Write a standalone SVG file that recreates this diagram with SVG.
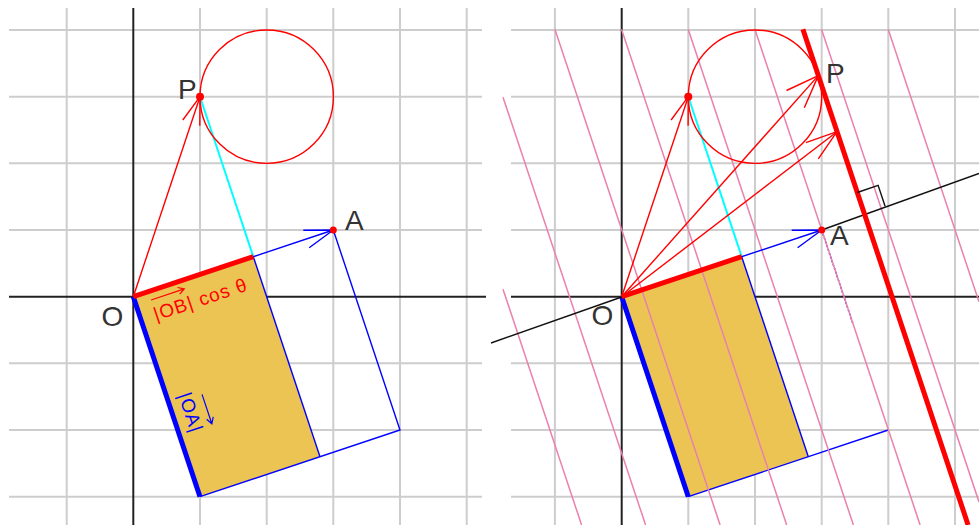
<svg xmlns="http://www.w3.org/2000/svg" width="979" height="525" viewBox="0 0 979 525">
<style>
.grid{stroke:#cdcdcd;stroke-width:2;fill:none}
.axis{stroke:#222;stroke-width:2;fill:none}
.rt{stroke:#ff0000;stroke-width:1.4;fill:none;stroke-linejoin:round}
.bt{stroke:#0000ff;stroke-width:1.4;fill:none}
.rk{stroke:#ff0000;stroke-width:5;fill:none}
.bk{stroke:#0000ff;stroke-width:5;fill:none}
.cy{stroke:#00ffff;stroke-width:2;fill:none}
.pk{stroke:#ea80ac;stroke-width:1.5;fill:none}
.bl{stroke:#111;stroke-width:1.4;fill:none}
.or{fill:#ecc453;stroke:none}
.dot{fill:#ff0000}
.lbl{font-family:"Liberation Sans",Arial,sans-serif;font-size:28px;fill:#333}
.sm{font-family:"Liberation Sans",Arial,sans-serif;font-size:19px;letter-spacing:1px}
</style>
<rect width="979" height="525" fill="#fff"/>

<g id="left-panel">
  <g id="left-grid" class="grid">
    <path d="M66.7 8V525M200 8V525M266.7 8V525M333.3 8V525M400 8V525M466.7 8V525"/>
    <path d="M9 30H482M9 96.7H482M9 163.3H482M9 230H482M9 363.3H482M9 430H482M9 496.7H482"/>
  </g>
  <g id="left-axes" class="axis">
    <path d="M133.3 8V525M9 296.7H486"/>
  </g>
  <polygon id="left-area" class="or" points="133.3,296.7 253.3,256.7 320,456.7 200,496.7"/>
  <g id="left-connectors">
    <polyline class="bt" points="333.3,230 400,430 200,496.7"/>
    <line class="bt" x1="253.3" y1="256.7" x2="320" y2="456.7"/>
    <line class="bk" x1="133.3" y1="296.7" x2="200" y2="496.7"/>
    <line class="cy" x1="200" y1="96.7" x2="253.3" y2="256.7"/>
    <line class="rt" x1="133.3" y1="296.7" x2="200" y2="96.7"/>
    <polyline class="rt" points="182.8,120 200,96.7 199.8,125.7"/>
    <circle class="rt" cx="266.7" cy="96.7" r="66.7"/>
    <line class="bt" x1="133.3" y1="296.7" x2="333.3" y2="230"/>
    <polyline class="bt" points="303.3,230.2 333.3,230 309.2,247.8"/>
    <line class="rk" x1="133.3" y1="296.7" x2="253.3" y2="256.7"/>
  </g>
  <g id="left-points">
    <circle class="dot" cx="200" cy="96.7" r="4"/>
    <circle class="dot" cx="333.3" cy="230" r="3.5"/>
    <text class="lbl" x="178" y="99">P</text>
    <text class="lbl" x="345" y="230">A</text>
    <text class="lbl" x="101.5" y="326">O</text>
  </g>
  <g id="label-OB" transform="translate(156,321) rotate(-18.43)" fill="#ff0000">
    <text class="sm" x="0" y="0">|OB| cos θ</text>
    <path d="M2 -21.5H37M31 -25L37 -21.5L31 -18" stroke="#ff0000" stroke-width="1.2" fill="none"/>
  </g>
  <g id="label-OA" transform="translate(178,395) rotate(71.57)" fill="#0000ff">
    <text class="sm" x="0" y="0">|OA|</text>
    <path d="M7 -23H38M32 -26.5L38 -23L32 -19.5" stroke="#0000ff" stroke-width="1.2" fill="none"/>
  </g>
</g>

<g id="right-panel">
  <g id="right-grid" class="grid">
    <path d="M554.9 8V525M688.3 8V525M755 8V525M821.7 8V525M888.3 8V525M955 8V525"/>
    <path d="M511 30H979M511 96.7H979M511 163.3H979M511 230H979M511 363.3H979M511 430H979M511 496.7H979"/>
  </g>
  <g id="right-axes" class="axis">
    <path d="M621.7 8V525M511 296.7H979"/>
  </g>
  <polygon id="right-area" class="or" points="621.7,296.7 741.7,256.7 808.3,456.7 688.3,496.7"/>
  <g id="right-connectors">
    <line class="bt" x1="741.7" y1="256.7" x2="808.3" y2="456.7"/>
    <line class="bt" x1="688.3" y1="496.7" x2="888.3" y2="430"/>
    <line class="bt" x1="821.7" y1="230" x2="852.7" y2="323" stroke-dasharray="2 2"/>
    <line class="bk" x1="621.7" y1="296.7" x2="688.3" y2="496.7"/>
    <g id="level-lines" class="pk">
      <line x1="503" y1="289.2" x2="581.6" y2="525"/>
      <line x1="503" y1="97.2" x2="645.6" y2="525"/>
      <line x1="554.9" y1="29.3" x2="720.1" y2="525"/>
      <line x1="621.5" y1="29.3" x2="786.7" y2="525"/>
      <line x1="688.2" y1="29.3" x2="853.4" y2="525"/>
      <line x1="754.9" y1="29.3" x2="920.1" y2="525"/>
      <line x1="821.5" y1="29.3" x2="979" y2="501.9"/>
      <line x1="888.2" y1="29.3" x2="979" y2="301.8"/>
    </g>
    <line class="cy" x1="688.3" y1="96.7" x2="741.7" y2="256.7"/>
    <line class="rt" x1="621.7" y1="296.7" x2="688.3" y2="96.7"/>
    <polyline class="rt" points="671.1,120 688.3,96.7 688.1,125.7"/>
    <line class="rt" x1="621.7" y1="296.7" x2="818.3" y2="75.6"/>
    <polyline class="rt" points="786.5,90.5 818.3,75.6 804.3,107.7"/>
    <line class="rt" x1="621.7" y1="296.7" x2="837" y2="131.7"/>
    <polyline class="rt" points="805.9,142.7 837,131.7 818.3,158.9"/>
    <circle class="rt" cx="755" cy="96.7" r="66.7"/>
    <line class="bl" x1="491" y1="343" x2="621.7" y2="297"/>
    <line class="bl" x1="821.7" y1="230" x2="979" y2="173.5"/>
    <line class="bt" x1="621.7" y1="296.7" x2="821.7" y2="230"/>
    <polyline class="bt" points="791.7,230.2 821.7,230 797.6,247.8"/>
    <line class="rk" x1="621.7" y1="296.7" x2="741.7" y2="256.7"/>
    <line class="rk" x1="802.9" y1="29.3" x2="968.1" y2="525"/>
    <polyline class="bl" points="857.3,192.5 878.1,185.3 885.1,206.2"/>
  </g>
  <g id="right-points">
    <circle class="dot" cx="688.3" cy="96.7" r="4"/>
    <circle class="dot" cx="821.7" cy="230" r="3.5"/>
    <text class="lbl" x="826" y="83">P</text>
    <text class="lbl" x="830" y="245">A</text>
    <text class="lbl" x="591.5" y="325">O</text>
  </g>
</g>
</svg>
